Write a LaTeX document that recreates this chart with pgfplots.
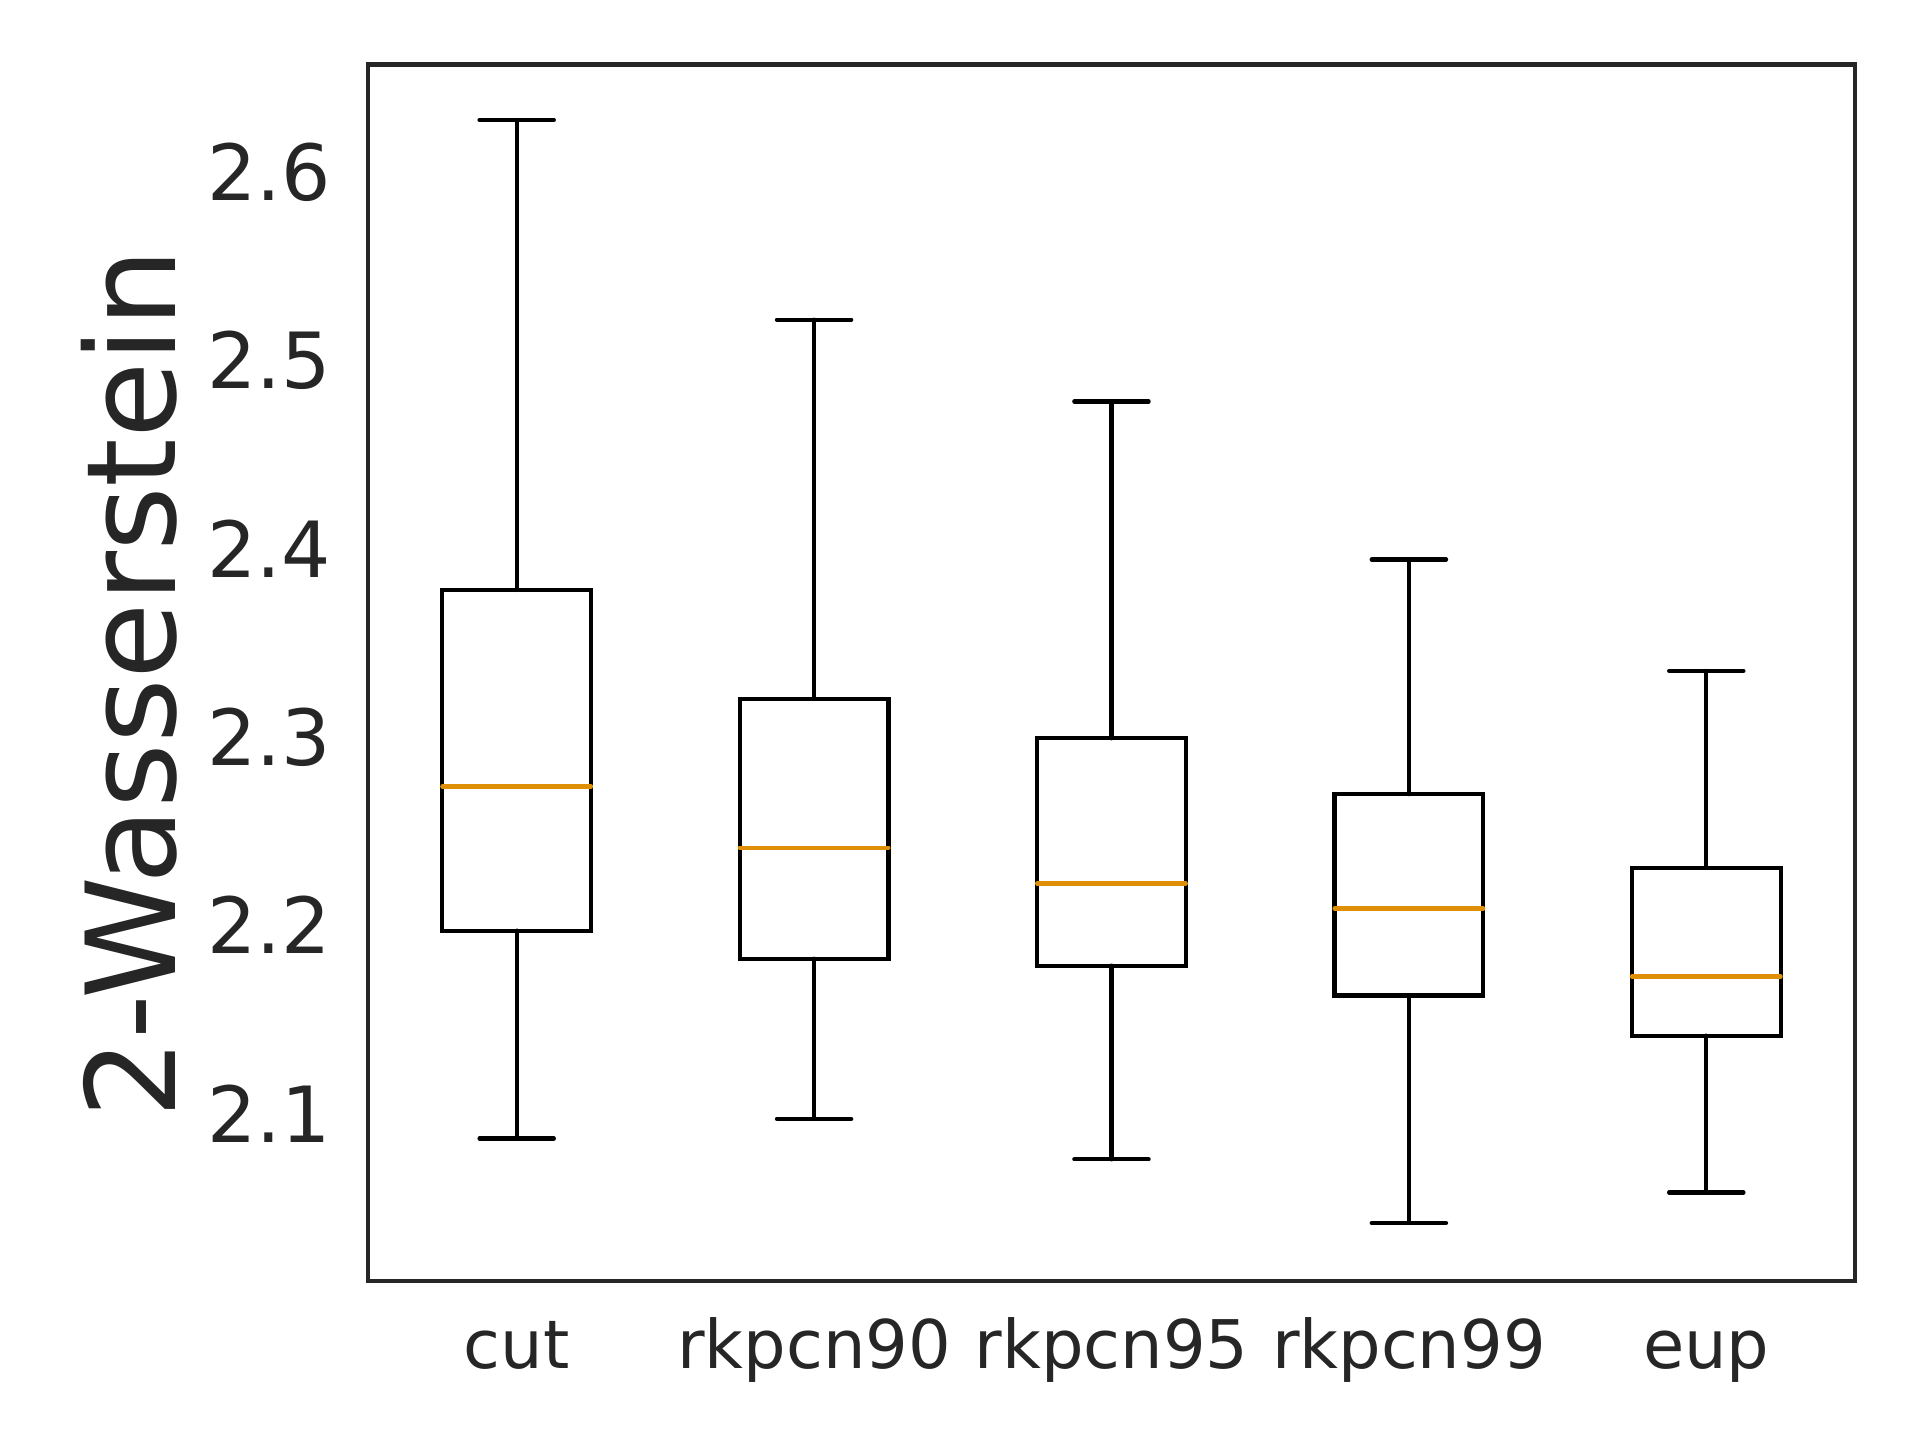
\documentclass[border=0pt]{standalone}
\usepackage{pgfplots}
\pgfplotsset{compat=1.18}
\usepgfplotslibrary{statistics}
\usepackage{fontspec}
\setmainfont{DejaVu Sans}
\definecolor{txt}{HTML}{262626}
\definecolor{med}{HTML}{DE8F05}
\pgfplotsset{boxplot/every median/.style={draw=med, line width=1pt}}
\begin{document}
\begin{tikzpicture}
\useasboundingbox (-88.32pt,-38.16pt) rectangle (372.5pt,307.44pt);
\begin{axis}[
  at={(0,0)}, anchor=south west,
  scale only axis, width=356.9pt, height=291.96pt,
  xmin=0.5, xmax=5.5, ymin=2.0109, ymax=2.6574,
  xtick={1,2,3,4,5}, xticklabels={cut,rkpcn90,rkpcn95,rkpcn99,eup},
  ytick={2.1,2.2,2.3,2.4,2.5,2.6}, yticklabels={2.1,2.2,2.3,2.4,2.5,2.6},
  major tick length=0pt, tick style={draw=none},
  axis line style={txt, line width=1pt},
  ticklabel style={text=txt},
  yticklabel style={font=\fontsize{18.6}{22}\selectfont, anchor=east, inner sep=0pt, xshift=-8.8pt},
  xticklabel style={font=\fontsize{16.1}{20}\selectfont, anchor=base, inner sep=0pt, yshift=-20.9pt},
  ylabel={2-Wasserstein},
  ylabel style={at={(axis description cs:-0.1297,0.491)}, anchor=base, rotate=0, font=\fontsize{29.8}{36}\selectfont, text=txt, inner sep=0pt},
  boxplot/draw direction=y,
  clip=false,
]
\addplot[black, solid, line width=1pt, line cap=round, mark=none, boxplot prepared={draw position=1, lower whisker=2.0866, lower quartile=2.1971, median=2.2737, upper quartile=2.3781, upper whisker=2.6279, box extend=0.5, whisker extend=0.25}] coordinates {};
\addplot[black, solid, line width=1pt, line cap=round, mark=none, boxplot prepared={draw position=2, lower whisker=2.0970, lower quartile=2.1822, median=2.2412, upper quartile=2.3202, upper whisker=2.5218, box extend=0.5, whisker extend=0.25}] coordinates {};
\addplot[black, solid, line width=1pt, line cap=round, mark=none, boxplot prepared={draw position=3, lower whisker=2.0755, lower quartile=2.1785, median=2.2221, upper quartile=2.2993, upper whisker=2.4783, box extend=0.5, whisker extend=0.25}] coordinates {};
\addplot[black, solid, line width=1pt, line cap=round, mark=none, boxplot prepared={draw position=4, lower whisker=2.0417, lower quartile=2.1626, median=2.2088, upper quartile=2.2696, upper whisker=2.3943, box extend=0.5, whisker extend=0.25}] coordinates {};
\addplot[black, solid, line width=1pt, line cap=round, mark=none, boxplot prepared={draw position=5, lower whisker=2.0579, lower quartile=2.1413, median=2.1727, upper quartile=2.2305, upper whisker=2.3351, box extend=0.5, whisker extend=0.25}] coordinates {};
\end{axis}
\end{tikzpicture}
\end{document}
